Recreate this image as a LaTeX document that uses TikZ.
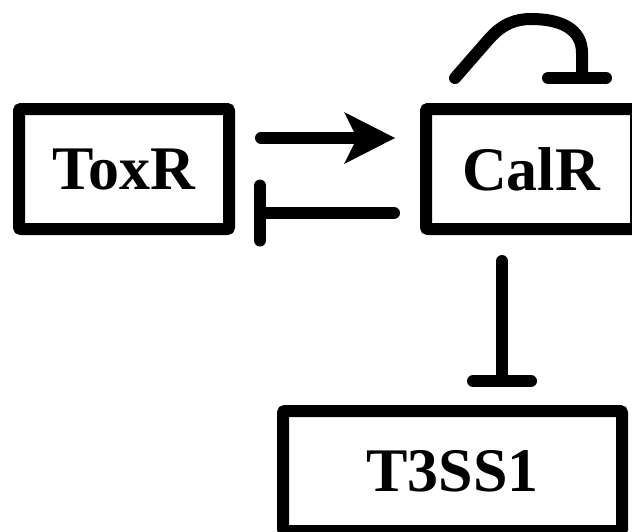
\documentclass[tikz,border=0pt]{standalone}
\usepackage{fontspec}
\setmainfont{Liberation Serif}
\usetikzlibrary{arrows.meta,calc}
\begin{document}
\begin{tikzpicture}[x=1pt,y=-1pt,
  box/.style={draw,line width=12pt,rounded corners=2pt,minimum width=210pt,minimum height=120pt,
    inner sep=0pt,outer sep=0pt,font=\fontsize{62}{62}\selectfont\bfseries},
  link/.style={line width=12pt,line cap=round},
  act/.style={link,-{Stealth[length=51pt,width=52pt,inset=13pt,line width=0pt]}}]
\useasboundingbox (0,0) rectangle (632,531);
\clip (0,0) rectangle (632,531);
\node[box] (ToxR) at (124,169) {ToxR};
\node[box] (CalR) at (531,169) {CalR};
\node[box,minimum width=339pt] (T3SS1) at (452.5,471) {T3SS1};
% activation ToxR -> CalR
\draw[act] ([xshift=32pt,yshift=31pt]ToxR.east) -- ([xshift=-31pt,yshift=31pt]CalR.west);
% inhibition CalR -| ToxR
\coordinate (b1) at ([xshift=31pt,yshift=-44pt]ToxR.east);
\draw[link] ([xshift=-32pt,yshift=-44pt]CalR.west) -- (b1);
\draw[link] ([yshift=27.5pt]b1) -- ([yshift=-27.5pt]b1);
% inhibition CalR -| T3SS1
\coordinate (b2) at ([xshift=49.5pt,yshift=30pt]T3SS1.north);
\draw[link] ([xshift=-29pt,yshift=-32pt]CalR.south) -- (b2);
\draw[link] ([xshift=-29pt]b2) -- ([xshift=29pt]b2);
% self inhibition of CalR
\begin{scope}[shift={(CalR.north)}]
\coordinate (b3) at (51,-31);
\draw[link] (-76,-31) -- (-42,-70) .. controls (-28,-86) and (-14,-90) .. (0,-90)
  .. controls (30,-90) and (51,-80) .. (51,-56) -- (b3);
\draw[link] ([xshift=-34pt]b3) -- ([xshift=24pt]b3);
\end{scope}
\end{tikzpicture}
\end{document}
